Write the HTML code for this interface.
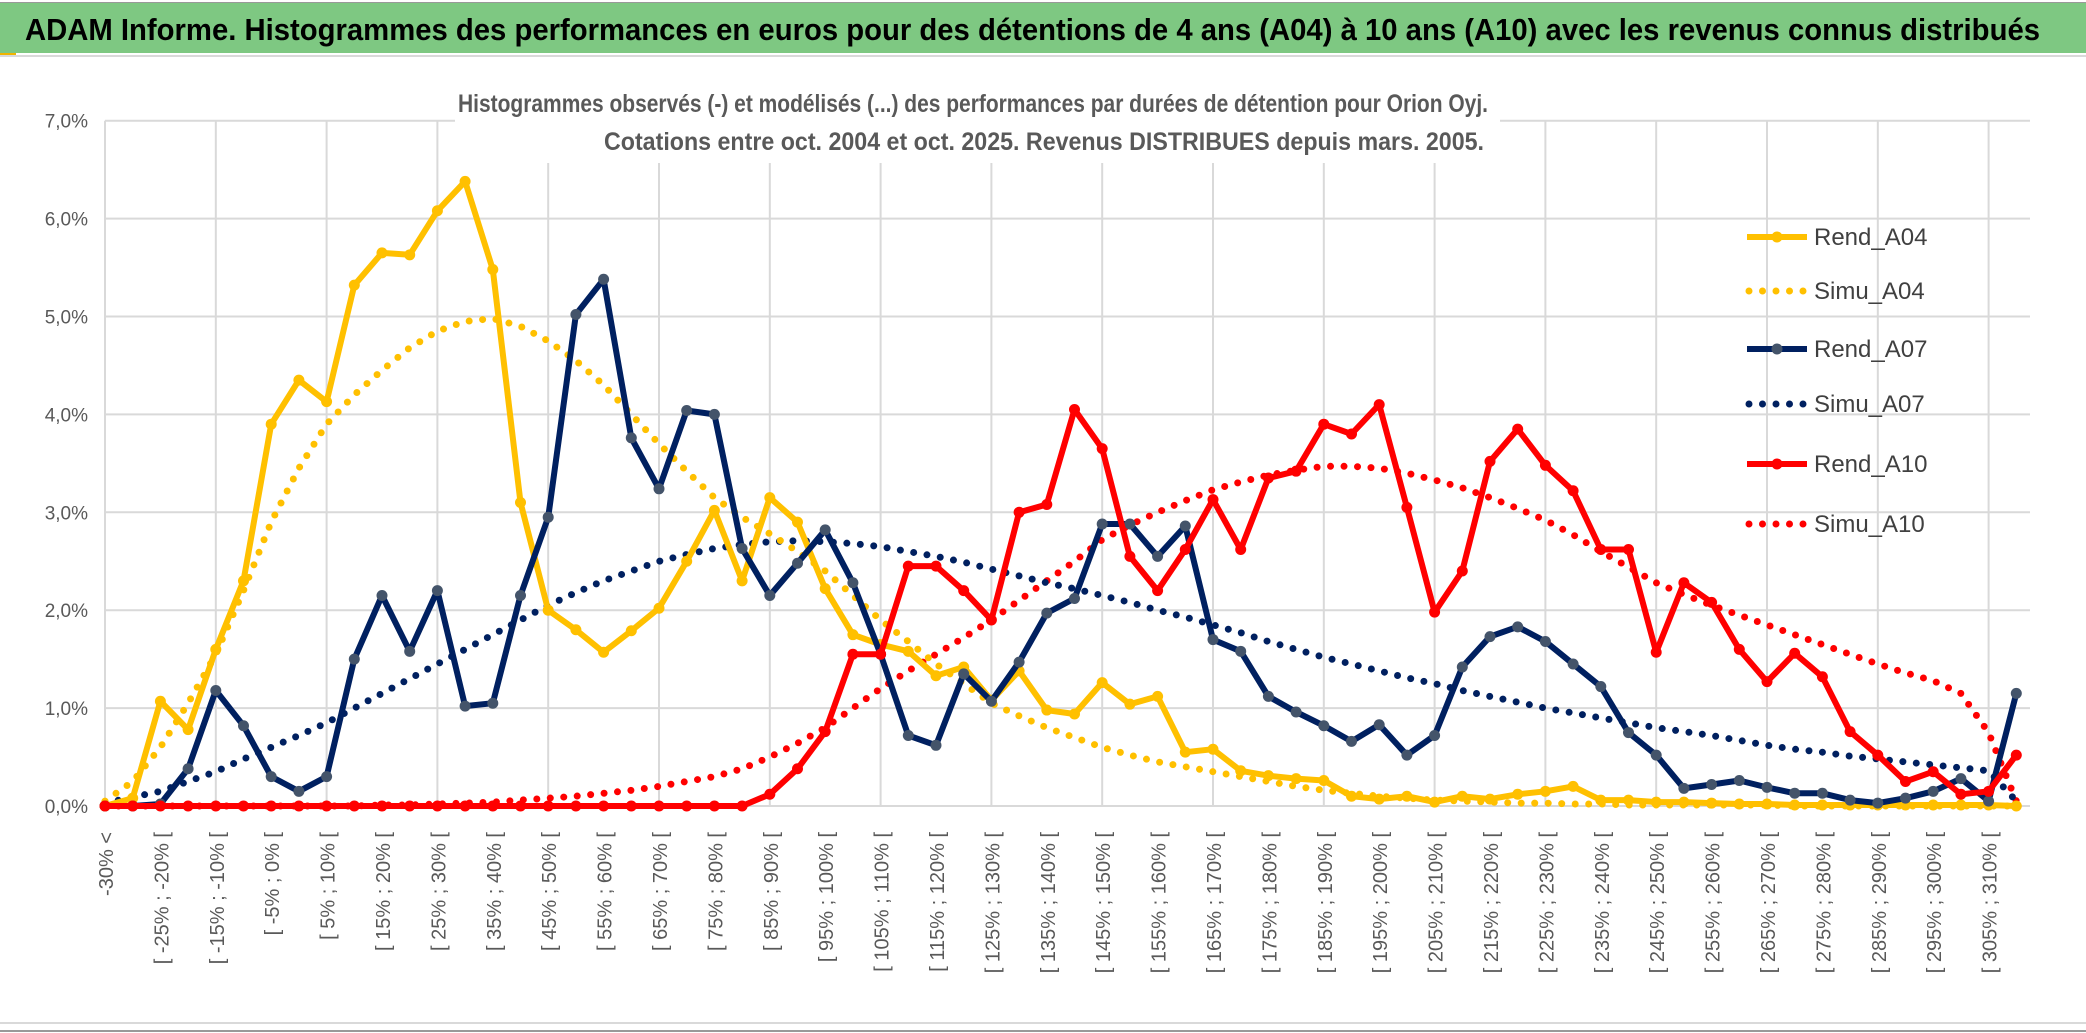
<!DOCTYPE html>
<html><head><meta charset="utf-8"><style>
html,body{margin:0;padding:0;background:#fff;}
svg{display:block;font-family:"Liberation Sans",sans-serif;}
</style></head><body>
<svg id="chart" width="2086" height="1033" viewBox="0 0 2086 1033" xmlns="http://www.w3.org/2000/svg">
<rect x="0" y="0" width="2086" height="1033" fill="#fff"/>
<rect x="0" y="2" width="2086" height="1" fill="#999"/>
<rect x="0" y="3" width="2086" height="50" fill="#7ec882"/>
<rect x="0" y="53" width="16" height="3" fill="#f0b400"/>
<rect x="0" y="55" width="2086" height="2" fill="#d9d9d9"/>
<text x="25" y="40" font-size="31" font-weight="bold" fill="#000" textLength="2015" lengthAdjust="spacingAndGlyphs">ADAM Informe. Histogrammes des performances en euros pour des détentions de 4 ans (A04) à 10 ans (A10) avec les revenus connus distribués</text>
<g id="grid"></g>
<rect x="455" y="85" width="1045" height="78" fill="#fff"/>
<text x="973" y="112" font-size="25" font-weight="bold" fill="#595959" text-anchor="middle" textLength="1030" lengthAdjust="spacingAndGlyphs">Histogrammes observés (-) et modélisés (...) des performances par durées de détention pour Orion Oyj.</text>
<text x="1044" y="150" font-size="25" font-weight="bold" fill="#595959" text-anchor="middle" textLength="880" lengthAdjust="spacingAndGlyphs">Cotations entre oct. 2004 et oct. 2025. Revenus DISTRIBUES depuis mars. 2005.</text>
<g id="yaxis"></g>
<g id="xaxis"></g>
<g id="series"></g>
<g id="legend"></g>
<rect x="0" y="1022" width="2086" height="2" fill="#d9d9d9"/>
<rect x="0" y="1030" width="2086" height="2" fill="#999"/>
</svg>
<script>
const categories=(function(){const a=["-30% <"];for(let v=-30;v<=310;v+=5){a.push("[ "+v+"% ; "+(v+5)+"% [");}return a;})();
const yTicks=[0,1,2,3,4,5,6,7];
const yTickLabels=["0,0%","1,0%","2,0%","3,0%","4,0%","5,0%","6,0%","7,0%"];
const rendA04=[0,0.08,1.07,0.78,1.6,2.3,3.9,4.35,4.13,5.32,5.65,5.63,6.08,6.38,5.48,3.1,2.0,1.8,1.57,1.79,2.02,2.5,3.02,2.3,3.15,2.9,2.22,1.75,1.65,1.58,1.33,1.42,1.08,1.38,0.98,0.94,1.26,1.04,1.12,0.55,0.58,0.36,0.31,0.28,0.26,0.1,0.07,0.1,0.04,0.1,0.07,0.12,0.15,0.2,0.06,0.06,0.04,0.04,0.03,0.02,0.02,0.01,0.01,0.01,0.01,0.01,0.01,0.01,0.01,0];
const simuA04=[0.05,0.25,0.6,1.05,1.55,2.2,2.9,3.45,3.9,4.2,4.45,4.68,4.85,4.95,4.98,4.9,4.75,4.55,4.3,4.0,3.7,3.42,3.15,2.95,2.78,2.6,2.4,2.15,1.9,1.68,1.45,1.25,1.05,0.92,0.8,0.7,0.6,0.52,0.45,0.4,0.35,0.3,0.25,0.2,0.16,0.13,0.1,0.08,0.06,0.05,0.04,0.03,0.03,0.02,0.02,0.01,0.01,0.01,0.01,0.01,0.01,0,0,0,0,0,0,0,0,0];
const rendA07=[0,0,0.02,0.38,1.18,0.82,0.3,0.15,0.3,1.5,2.15,1.58,2.2,1.02,1.05,2.15,2.95,5.02,5.38,3.76,3.24,4.04,4.0,2.63,2.15,2.48,2.82,2.28,1.55,0.72,0.62,1.35,1.07,1.47,1.97,2.12,2.88,2.88,2.55,2.86,1.7,1.58,1.12,0.96,0.82,0.66,0.83,0.52,0.72,1.42,1.73,1.83,1.68,1.45,1.22,0.75,0.52,0.18,0.22,0.26,0.19,0.13,0.13,0.06,0.03,0.08,0.15,0.28,0.05,1.15];
const simuA07=[0.03,0.09,0.15,0.25,0.35,0.48,0.6,0.72,0.85,1.0,1.15,1.3,1.45,1.6,1.75,1.9,2.05,2.18,2.3,2.4,2.5,2.57,2.63,2.67,2.7,2.71,2.7,2.68,2.65,2.6,2.55,2.49,2.42,2.35,2.28,2.22,2.15,2.08,2.0,1.93,1.85,1.77,1.68,1.6,1.52,1.45,1.38,1.31,1.25,1.18,1.12,1.06,1.0,0.95,0.9,0.85,0.8,0.76,0.72,0.67,0.62,0.58,0.55,0.51,0.48,0.45,0.42,0.39,0.36,0.05];
const rendA10=[0,0,0,0,0,0,0,0,0,0,0,0,0,0,0,0,0,0,0,0,0,0,0,0,0.12,0.38,0.76,1.55,1.55,2.45,2.45,2.2,1.9,3.0,3.08,4.05,3.65,2.55,2.2,2.62,3.13,2.62,3.35,3.42,3.9,3.8,4.1,3.05,1.98,2.4,3.52,3.85,3.48,3.22,2.62,2.62,1.57,2.28,2.08,1.6,1.27,1.56,1.32,0.76,0.52,0.25,0.35,0.12,0.15,0.52];
const simuA10=[0,0,0,0,0,0,0,0,0,0,0.01,0.01,0.02,0.03,0.04,0.06,0.08,0.1,0.13,0.16,0.2,0.25,0.3,0.38,0.5,0.64,0.8,1.0,1.2,1.38,1.55,1.72,1.9,2.1,2.3,2.5,2.72,2.87,3.0,3.12,3.23,3.31,3.38,3.43,3.47,3.47,3.45,3.4,3.33,3.25,3.15,3.04,2.92,2.77,2.6,2.44,2.28,2.16,2.05,1.95,1.85,1.75,1.65,1.55,1.45,1.36,1.28,1.15,0.75,0.05];
const seriesNames=["Rend_A04","Simu_A04","Rend_A07","Simu_A07","Rend_A10","Simu_A10"];

const NS="http://www.w3.org/2000/svg";
const X0=105,STEP=27.7,Y0=806,YU=97.9;
function xScale(i){return X0+STEP*i;}
function yScale(v){return Y0-YU*v;}
function mk(tag,attrs,parent){const e=document.createElementNS(NS,tag);for(const k in attrs)e.setAttribute(k,attrs[k]);parent.appendChild(e);return e;}

const grid=document.getElementById('grid');
yTicks.forEach(function(t){
  const l=mk('line',{x1:X0,x2:2030,y1:yScale(t),y2:yScale(t),stroke:'#d9d9d9','stroke-width':2},grid);
  
  
});
for(let i=0;i<categories.length-1;i+=4){
  const l=mk('line',{x1:xScale(i),x2:xScale(i),y1:yScale(7),y2:Y0,stroke:'#d9d9d9','stroke-width':2},grid);
  
  
}
const yax=document.getElementById('yaxis');
yTicks.forEach(function(t,k){
  const tx=mk('text',{x:88,y:yScale(t)+7,'font-size':19,fill:'#595959','text-anchor':'end'},yax);
  tx.textContent=yTickLabels[k];
  
  
});
const xax=document.getElementById('xaxis');
for(let i=0;i<categories.length;i+=2){
  const x=xScale(i)+8;
  const tx=mk('text',{x:0,y:0,'font-size':20,fill:'#595959','text-anchor':'end',transform:'translate('+x+',832) rotate(-90)'},xax);
  tx.textContent=categories[i];
  
  
}
const seriesG=document.getElementById('series');
function pathOf(arr){return arr.map(function(v,i){return (i?'L':'M')+xScale(i).toFixed(1)+' '+yScale(v).toFixed(1);}).join(' ');}
function dotted(arr,color,name){
  const p=mk('path',{d:pathOf(arr),fill:'none',stroke:color,'stroke-width':7,'stroke-linecap':'round','stroke-dasharray':'0 13.5'},seriesG);
  
  
}
function solid(arr,color,mcolor,name){
  const g=mk('g',{},seriesG);
  
  
  mk('path',{d:pathOf(arr),fill:'none',stroke:color,'stroke-width':6,'stroke-linejoin':'round'},g);
  arr.forEach(function(v,i){
    const c=mk('circle',{cx:xScale(i),cy:yScale(v),r:5.5,fill:mcolor},g);
    
    
  });
}
dotted(simuA10,'#ff0000','simu-a10-line');
dotted(simuA07,'#002060','simu-a07-line');
dotted(simuA04,'#ffc000','simu-a04-line');
solid(rendA04,'#ffc000','#ffc000','rend-a04-line');
solid(rendA07,'#002060','#44546a','rend-a07-line');
solid(rendA10,'#ff0000','#ff0000','rend-a10-line');

const leg=document.getElementById('legend');
const legColors=['#ffc000','#ffc000','#002060','#002060','#ff0000','#ff0000'];
const legY=[237,291,349,404,464,524];
seriesNames.forEach(function(n,k){
  const g=mk('g',{},leg);
  
  
  if(k%2===0){
    mk('line',{x1:1747,x2:1807,y1:legY[k],y2:legY[k],stroke:legColors[k],'stroke-width':6},g);
    mk('circle',{cx:1777,cy:legY[k],r:5.5,fill:k===2?'#44546a':legColors[k]},g);
  } else {
    mk('line',{x1:1749,x2:1807,y1:legY[k],y2:legY[k],stroke:legColors[k],'stroke-width':7,'stroke-linecap':'round','stroke-dasharray':'0 13.5'},g);
  }
  const t=mk('text',{x:1814,y:legY[k]+8,'font-size':24,fill:'#404040'},g);
  t.textContent=n;
});
</script>
</body></html>
